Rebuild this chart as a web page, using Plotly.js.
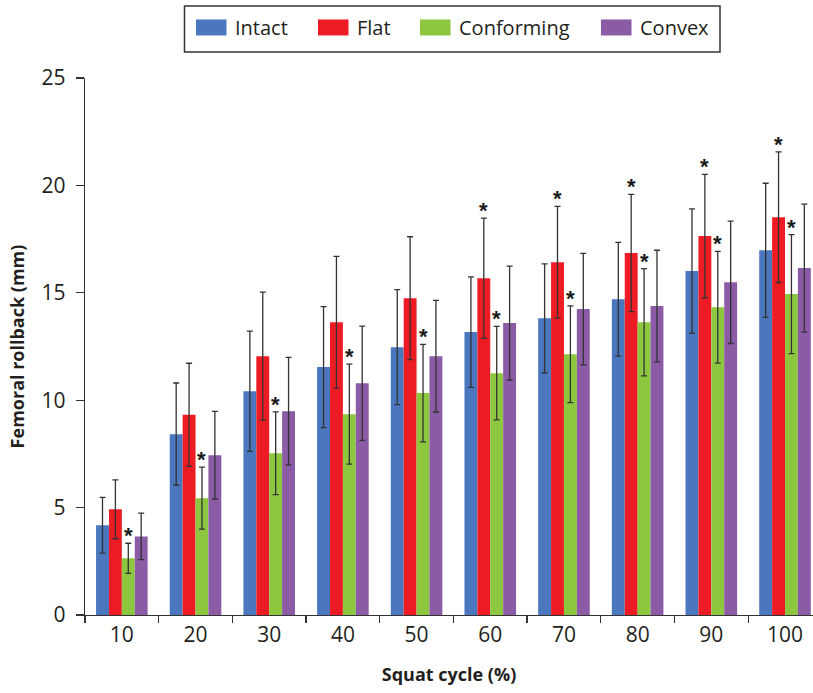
<!DOCTYPE html>
<html>
<head>
<meta charset="utf-8">
<script src="https://cdn.plot.ly/plotly-3.0.1.min.js"></script>
<style>html,body{margin:0;padding:0;background:#fff;}#chart{width:813px;height:693px;}</style>
</head>
<body>
<div id="chart"></div>
<script>
// ---- data ----
const categories = ["10","20","30","40","50","60","70","80","90","100"];
const seriesNames = ["Intact","Flat","Conforming","Convex"];
const seriesColors = ["#4a77bd","#ed1c24","#8dc63f","#8b5ba5"];

const intact     = [4.18, 8.42, 10.42, 11.54, 12.47, 13.17, 13.81, 14.70, 16.01, 16.98];
const flat       = [4.92, 9.32, 12.05, 13.63, 14.75, 15.68, 16.42, 16.85, 17.64, 18.52];
const conforming = [2.64, 5.44, 7.53, 9.35, 10.33, 11.26, 12.14, 13.63, 14.33, 14.94];
const convex     = [3.66, 7.44, 9.49, 10.79, 12.05, 13.59, 14.24, 14.38, 15.49, 16.15];

const intactSD     = [1.30, 2.38, 2.80, 2.82, 2.68, 2.57, 2.54, 2.65, 2.90, 3.12];
const flatSD       = [1.37, 2.40, 2.98, 3.07, 2.86, 2.80, 2.60, 2.73, 2.87, 3.04];
const conformingSD = [0.70, 1.44, 1.93, 2.33, 2.27, 2.18, 2.25, 2.50, 2.60, 2.77];
const convexSD     = [1.08, 2.04, 2.50, 2.66, 2.60, 2.65, 2.60, 2.60, 2.85, 2.98];

// significance markers (*)
const flatStar       = [false,false,false,false,false,true,true,true,true,true];
const conformingStar = [true,true,true,true,true,true,true,true,true,true];

// ---- build ----
const values = [intact, flat, conforming, convex];
const sds = [intactSD, flatSD, conformingSD, convexSD];
const bargap = 0.30;
const barW = (1 - bargap) / seriesNames.length;

const traces = seriesNames.map((name, s) => ({
  type: "bar",
  name: name,
  x: categories,
  y: values[s],
  marker: {color: seriesColors[s], line: {width: 0}},
  error_y: {type: "data", array: sds[s], visible: true, color: "#333333", thickness: 1.3, width: 3},
  showlegend: false,
  hoverinfo: "x+y"
}));

const offset = s => (s - (seriesNames.length - 1) / 2) * barW;
const annotations = [];
const starSets = [[1, flatStar], [2, conformingStar]];
starSets.forEach(([s, flags]) => {
  flags.forEach((f, i) => {
    if (!f) return;
    annotations.push({
      x: i + offset(s), y: values[s][i] + sds[s][i], xref: "x", yref: "y",
      text: "*", showarrow: false, yanchor: "bottom", yshift: -7,
      font: {family: "Liberation Sans", size: 22, color: "#1a1a1a", weight: "bold"}
    });
  });
});

// manual legend (paper coords)
const plotL = 85, plotR = 813, plotT = 78, plotB = 614.7;
const px = v => (v - plotL) / (plotR - plotL);
const py = v => (plotB - v) / (plotB - plotT);
const shapes = [{
  type: "rect", xref: "paper", yref: "paper",
  x0: px(184.5), x1: px(720), y0: py(52), y1: py(6),
  line: {color: "#333", width: 1.5}, fillcolor: "rgba(0,0,0,0)"
}];
const swatchX = [196, 318, 420, 601];
seriesNames.forEach((name, s) => {
  shapes.push({
    type: "rect", xref: "paper", yref: "paper",
    x0: px(swatchX[s]), x1: px(swatchX[s] + 30.5), y0: py(35.5), y1: py(19.5),
    line: {width: 0}, fillcolor: seriesColors[s]
  });
  annotations.push({
    xref: "paper", yref: "paper", x: px(swatchX[s] + 37), y: py(28),
    xanchor: "left", yanchor: "middle", text: name, showarrow: false,
    font: {family: "Open Sans", size: 20, color: "#231f20"}
  });
});

const layout = {
  width: 813, height: 693,
  margin: {l: plotL, r: 813 - plotR, t: plotT, b: 693 - plotB},
  paper_bgcolor: "#fff", plot_bgcolor: "#fff",
  barmode: "group", bargap: bargap, bargroupgap: 0,
  showlegend: false,
  font: {family: "Open Sans", color: "#231f20"},
  xaxis: {
    type: "category", range: [-0.5, 9.38],
    showline: true, linecolor: "#333", linewidth: 1.3,
    ticks: "outside", tickson: "boundaries", ticklen: 7, tickcolor: "#333", tickwidth: 1.3,
    tickfont: {family: "Open Sans", size: 21, color: "#231f20"},
    showgrid: false, zeroline: false,
    title: {text: "Squat cycle (%)", font: {family: "Open Sans", size: 18, color: "#231f20", weight: "bold"}, standoff: 22}
  },
  yaxis: {
    range: [0, 25], tickvals: [0,5,10,15,20,25],
    showline: true, linecolor: "#333", linewidth: 1.3,
    ticks: "outside", ticklen: 8, tickcolor: "#333", tickwidth: 1.3,
    tickfont: {family: "Open Sans", size: 21, color: "#231f20"},
    showgrid: false, zeroline: false, ticklabelstandoff: 6,
    title: {text: "Femoral rollback (mm)", font: {family: "Open Sans", size: 18, color: "#231f20", weight: "bold"}, standoff: 12}
  },
  shapes: shapes,
  annotations: annotations
};

Plotly.newPlot("chart", traces, layout, {displayModeBar: false, staticPlot: true});
</script>
</body>
</html>
